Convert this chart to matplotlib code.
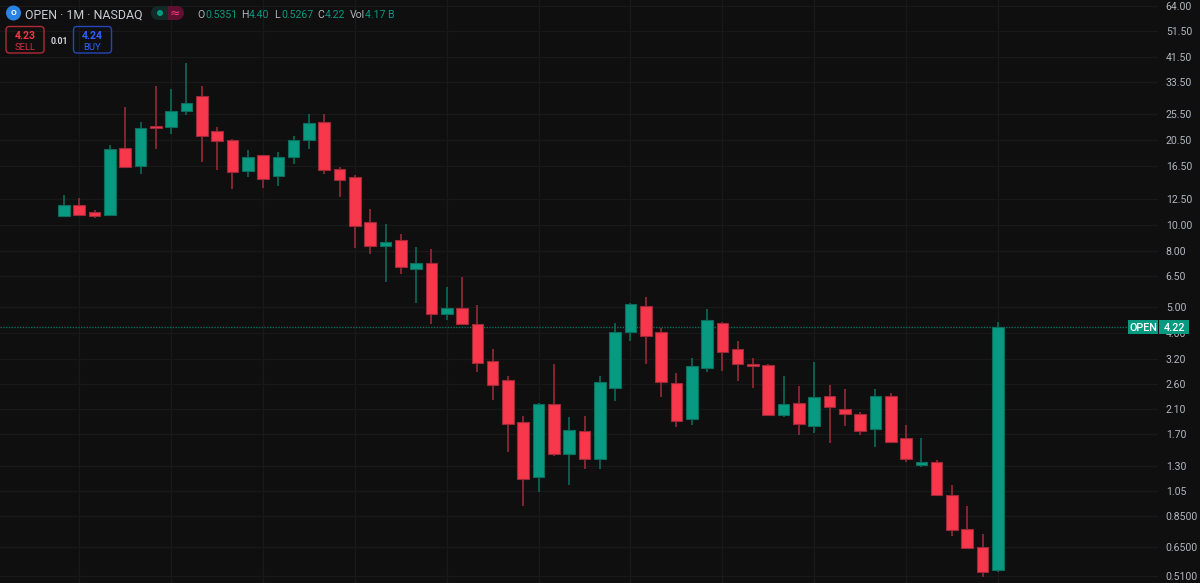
import matplotlib
matplotlib.use("Agg")
import numpy as np
import matplotlib.pyplot as plt
from matplotlib.patches import FancyBboxPatch, Circle, Rectangle

plt.rcParams['font.family'] = ['Roboto', 'DejaVu Sans']

# monthly candles
opens = [10.75, 11.83, 11.19, 10.85, 19.19, 16.50, 23.17, 22.94, 26.26, 29.72,
         22.22, 20.49, 15.75, 18.03, 15.13, 17.80, 20.59, 23.93, 16.02, 15.00,
         10.22, 8.38, 8.78, 6.90, 7.24, 4.70, 4.94, 4.31, 3.15, 2.69,
         1.89, 1.18, 2.20, 1.43, 1.74, 1.375, 2.51, 4.05, 5.01, 4.04,
         2.61, 1.93, 2.97, 4.36, 3.50, 3.07, 3.04, 2.00, 2.22, 1.82,
         2.35, 2.11, 2.02, 1.78, 2.35, 1.64, 1.31, 1.345, 1.014, 0.758,
         0.650, 0.5351]
highs = [12.88, 12.53, 11.32, 19.69, 27.17, 23.99, 32.46, 31.64, 39.54, 32.46,
         22.97, 20.71, 18.81, 18.03, 18.54, 21.24, 25.53, 25.53, 16.30, 15.26,
         11.41, 10.07, 9.23, 8.28, 8.15, 5.90, 6.43, 5.08, 3.50, 2.78,
         1.98, 2.22, 3.07, 1.97, 1.98, 2.78, 4.34, 5.16, 5.45, 4.19,
         2.84, 3.25, 4.91, 4.41, 3.73, 3.25, 3.07, 2.77, 2.55, 3.12,
         2.57, 2.48, 2.04, 2.49, 2.40, 1.84, 1.64, 1.36, 1.10, 0.922,
         0.728, 4.40]
lows = [10.75, 10.80, 10.62, 10.85, 16.19, 15.42, 19.08, 21.66, 25.38, 17.08,
        15.96, 13.52, 15.00, 13.71, 13.90, 16.75, 18.99, 15.42, 12.68, 8.22,
        7.83, 6.18, 6.59, 5.17, 4.31, 4.46, 4.31, 2.87, 2.27, 1.46,
        0.922, 1.04, 1.41, 1.105, 1.26, 1.26, 2.24, 3.74, 3.08, 2.33,
        1.81, 1.83, 2.87, 2.90, 2.66, 2.51, 2.00, 1.97, 1.68, 1.715,
        1.57, 1.82, 1.69, 1.52, 1.57, 1.34, 1.28, 1.017, 0.717, 0.648,
        0.508, 0.5267]
closes = [11.83, 10.85, 10.75, 19.08, 16.35, 22.69, 22.74, 26.26, 28.11, 21.17,
          20.37, 15.65, 17.77, 14.79, 17.77, 20.59, 23.79, 15.88, 14.59, 9.90,
          8.33, 8.65, 7.00, 7.24, 4.70, 4.94, 4.31, 3.10, 2.58, 1.85,
          1.16, 2.20, 1.43, 1.76, 1.375, 2.65, 4.04, 5.11, 3.90, 2.64,
          1.90, 3.02, 4.48, 3.42, 3.08, 3.02, 2.00, 2.19, 1.85, 2.33,
          2.14, 2.01, 1.74, 2.35, 1.59, 1.375, 1.345, 1.017, 0.755, 0.648,
          0.530, 4.22]

price_ticks = [64, 51.5, 41.5, 33.5, 25.5, 20.5, 16.5, 12.5, 10, 8, 6.5, 5, 4,
               3.2, 2.6, 2.1, 1.7, 1.3, 1.05, 0.85, 0.65, 0.51]
price_labels = ['64.00', '51.50', '41.50', '33.50', '25.50', '20.50', '16.50',
                '12.50', '10.00', '8.00', '6.50', '5.00', '4.00', '3.20', '2.60',
                '2.10', '1.70', '1.30', '1.05', '0.8500', '0.6500', '0.5100']
last_price = 4.22

BG = '#0f0f0f'
GRID = '#191919'
UP = '#089981'
DOWN = '#f7374b'
UP_EDGE = '#0b6e5d'
DOWN_EDGE = '#9c2a39'
AXIS_TEXT = '#b2b5be'

W, H = 1200, 583
fig = plt.figure(figsize=(W / 100, H / 100), dpi=100, facecolor=BG)
ax = fig.add_axes([0, 0, 1158 / W, 1], facecolor=BG)

x = np.arange(len(opens))
o, h, l, c = map(np.array, (opens, highs, lows, closes))
up = c >= o
body_col = np.where(up, UP, DOWN)
edge_col = np.where(up, UP_EDGE, DOWN_EDGE)

ax.vlines(x, l, h, colors=edge_col, lw=1.15, zorder=3)
ax.bar(x, np.abs(c - o), bottom=np.minimum(o, c), width=0.76, color=body_col,
       edgecolor=edge_col, linewidth=0.8, zorder=4)

ax.set_yscale('log')
step = 15.31
ax.set_xlim(-64 / step, (1158 - 64) / step)
ax.set_ylim(0.481, 67.25)

ax.set_xticks(x[1::6])
ax.tick_params(axis='x', length=0, labelbottom=False)
ax.yaxis.tick_right()
ax.set_yticks(price_ticks)
ax.set_yticklabels(price_labels)
ax.minorticks_off()
ax.tick_params(axis='y', length=0, pad=5.6, labelsize=7.6, labelcolor=AXIS_TEXT)
ax.grid(True, color=GRID, lw=1, zorder=0)
ax.set_axisbelow(True)
for s in ax.spines.values():
    s.set_visible(False)

ax.axhline(last_price, color=UP_EDGE, lw=1, ls=(0, (1, 1)), zorder=2)

# overlay in pixels for the header and the price tag
ov = fig.add_axes([0, 0, 1, 1], facecolor='none')
ov.set_xlim(0, W)
ov.set_ylim(H, 0)
ov.axis('off')

# price tag
ov.add_patch(Rectangle((1128, 320), 30, 14, color=UP, lw=0))
ov.add_patch(Rectangle((1159, 320), 30, 14, color=UP, lw=0))
ov.text(1143, 327, 'OPEN', color='white', fontsize=7.8, ha='center', va='center_baseline', fontweight='medium')
ov.text(1174, 327, '4.22', color='white', fontsize=7.8, ha='center', va='center_baseline', fontweight='medium')

# symbol line
ov.add_patch(Circle((13.5, 13), 7.5, color='#2a82e4', lw=0))
ov.text(13.5, 12.5, 'O', color='white', fontsize=6, ha='center', va='center', fontweight='bold')
ov.text(25, 13.5, 'OPEN · 1M · NASDAQ', color='#c8cbd2', fontsize=8.9, va='center_baseline')

# market status pill
ov.add_patch(Rectangle((158, 6), 10, 14, color='#122b27', lw=0))
ov.add_patch(Circle((158, 13), 7, color='#122b27', lw=0))
ov.add_patch(Circle((177, 13), 7, color='#5e1030', lw=0))
ov.add_patch(Rectangle((167.5, 6), 9.5, 14, color='#5e1030', lw=0))
ov.add_patch(Circle((160, 13), 3, color=UP, lw=0))
ov.text(174.5, 13, '≈', color='#f23d80', fontsize=9, ha='center', va='center', family=['DejaVu Sans'])

# OHLC readout
readout = [(197, 'O', AXIS_TEXT), (205, '0.5351', UP), (241, 'H', AXIS_TEXT), (249, '4.40', UP),
           (274, 'L', AXIS_TEXT), (281, '0.5267', UP), (317, 'C', AXIS_TEXT), (325, '4.22', UP),
           (350, 'Vol', AXIS_TEXT), (365, '4.17 B', UP)]
for px, txt, col in readout:
    ov.text(px, 13.5, txt, color=col, fontsize=7.6, va='center_baseline')

# sell / buy buttons
ov.add_patch(FancyBboxPatch((6, 26.5), 38, 26.5, boxstyle='round,pad=0,rounding_size=3.5',
                            fill=False, edgecolor='#b02a37', lw=1))
ov.add_patch(FancyBboxPatch((73.5, 26.5), 38, 26.5, boxstyle='round,pad=0,rounding_size=3.5',
                            fill=False, edgecolor='#2546b8', lw=1))
ov.text(25, 35, '4.23', color='#f23645', fontsize=7.6, ha='center', va='center_baseline', fontweight='bold')
ov.text(25, 46.5, 'SELL', color='#d4303f', fontsize=6.8, ha='center', va='center_baseline')
ov.text(92.5, 35, '4.24', color='#2e62ff', fontsize=7.6, ha='center', va='center_baseline', fontweight='bold')
ov.text(92.5, 46.5, 'BUY', color='#2e62ff', fontsize=6.8, ha='center', va='center_baseline')
ov.text(59, 40, '0.01', color='#d1d4dc', fontsize=6.3, ha='center', va='center_baseline', fontweight='bold')

fig.savefig('out.png', dpi=100, facecolor=BG)
